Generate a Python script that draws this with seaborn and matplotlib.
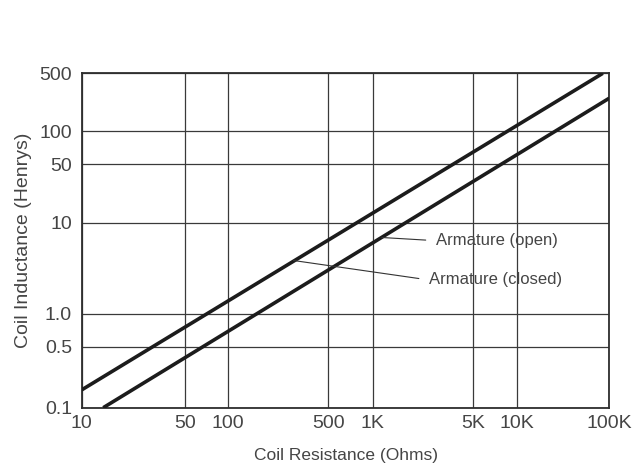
import numpy as np
import pandas as pd
import matplotlib
matplotlib.use("Agg")
import matplotlib.pyplot as plt
import seaborn as sns

# ---- data ----
x_tick_values = [10, 50, 100, 500, 1000, 5000, 10000, 100000]
x_tick_labels = ["10", "50", "100", "500", "1K", "5K", "10K", "100K"]
y_tick_values = [0.1, 0.5, 1.0, 10, 50, 100, 500]
y_tick_labels = ["0.1", "0.5", "1.0", "10", "50", "100", "500"]

series_names = ["Armature (closed)", "Armature (open)"]
resistance_closed = [10, 85000]
inductance_closed = [0.16, 500]
resistance_open = [14, 100000]
inductance_open = [0.1, 250]

# printed chart paper: relative position of each ruled gridline along its axis
x_grid_frac = [0.0, 0.1952, 0.2778, 0.4674, 0.5515, 0.7411, 0.8256, 1.0]
y_grid_frac = [0.0, 0.1824, 0.2802, 0.5532, 0.7279, 0.8274, 1.0]


def paper_scale(values, fracs):
    lv = np.log10(np.asarray(values, float))
    fr = np.asarray(fracs, float)
    s_lo = (fr[1] - fr[0]) / (lv[1] - lv[0])
    s_hi = (fr[-1] - fr[-2]) / (lv[-1] - lv[-2])

    def fwd(v):
        v = np.asarray(v, float)
        with np.errstate(divide="ignore", invalid="ignore"):
            lvv = np.log10(np.where(v > 0, v, np.nan))
        out = np.interp(lvv, lv, fr)
        out = np.where(lvv < lv[0], fr[0] + (lvv - lv[0]) * s_lo, out)
        out = np.where(lvv > lv[-1], fr[-1] + (lvv - lv[-1]) * s_hi, out)
        return out

    def inv(f):
        f = np.asarray(f, float)
        out = np.interp(f, fr, lv)
        out = np.where(f < fr[0], lv[0] + (f - fr[0]) / s_lo, out)
        out = np.where(f > fr[-1], lv[-1] + (f - fr[-1]) / s_hi, out)
        return 10 ** out

    return fwd, inv


df = pd.concat([
    pd.DataFrame({"R": resistance_closed, "L": inductance_closed, "series": series_names[0]}),
    pd.DataFrame({"R": resistance_open, "L": inductance_open, "series": series_names[1]}),
], ignore_index=True)

sns.set_theme(style="white")
plt.rcParams["font.family"] = ["Liberation Sans", "DejaVu Sans"]
text_color = "#454545"

fig = plt.figure(figsize=(6.4, 4.68), dpi=100)
ax = fig.add_axes([0.12766, 0.12885, 0.82438, 0.71453])

ax.set_xscale("function", functions=paper_scale(x_tick_values, x_grid_frac))
ax.set_yscale("function", functions=paper_scale(y_tick_values, y_grid_frac))

sns.lineplot(data=df, x="R", y="L", hue="series", palette=["#1c1c1c", "#1c1c1c"],
             legend=False, linewidth=2.6, ax=ax, solid_capstyle="butt", zorder=3)

ax.set_xlim(x_tick_values[0], x_tick_values[-1])
ax.set_ylim(y_tick_values[0], y_tick_values[-1])
ax.set_xticks(x_tick_values, x_tick_labels)
ax.set_yticks(y_tick_values, y_tick_labels)
ax.minorticks_off()
ax.tick_params(axis="both", length=0, labelsize=14, colors=text_color)
ax.tick_params(axis="x", pad=5)
ax.tick_params(axis="y", pad=7)
ax.grid(True, color="#3a3a3a", linewidth=0.9)
for sp in ax.spines.values():
    sp.set_color("#2e2e2e")
    sp.set_linewidth(1.3)

ax.set_xlabel("Coil Resistance (Ohms)", fontsize=12.5, color=text_color)
ax.set_ylabel("Coil Inductance (Henrys)", fontsize=14, color=text_color)
ax.xaxis.set_label_coords(0.5, -0.122)
ax.yaxis.set_label_coords(-0.094, 0.5)

lead = dict(arrowstyle="-", color="#333333", lw=0.8, shrinkA=5, shrinkB=0, relpos=(0, 0.5))
ax.annotate("Armature (open)", xy=(0.5686, 0.509), xycoords="axes fraction",
            xytext=(0.6714, 0.4994), textcoords="axes fraction",
            ha="left", va="center", fontsize=12, color=text_color, arrowprops=lead)
ax.annotate("Armature (closed)", xy=(0.4014, 0.4402), xycoords="axes fraction",
            xytext=(0.6583, 0.3819), textcoords="axes fraction",
            ha="left", va="center", fontsize=12, color=text_color, arrowprops=lead)

fig.savefig("out.png", dpi=100)
